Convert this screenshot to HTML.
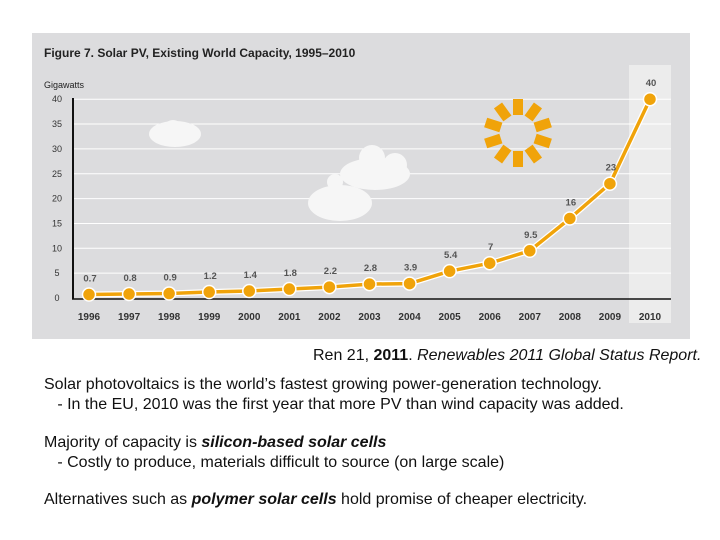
<!DOCTYPE html>
<html><head><meta charset="utf-8"><style>
body{margin:0;width:720px;height:540px;background:#fff;position:relative;overflow:hidden;font-family:"Liberation Sans",sans-serif;}
.t{position:absolute;font-size:16px;color:#111;white-space:nowrap;line-height:18px;}
</style></head><body>
<svg id="chart" width="720" height="345" style="position:absolute;left:0;top:0" xmlns="http://www.w3.org/2000/svg">
<rect x="32" y="33" width="658" height="306" fill="#dcdcde"/>
<rect x="629" y="65" width="42" height="258" fill="#ececec"/>
<text x="44" y="57" font-family="Liberation Sans" font-weight="bold" font-size="12" fill="#222">Figure 7. Solar PV, Existing World Capacity, 1995–2010</text>
<text x="44" y="88" font-family="Liberation Sans" font-size="9" fill="#222">Gigawatts</text>
<g id="grid"></g>
<g fill="#f6f6f6">
<circle cx="173" cy="130" r="10"/><ellipse cx="175" cy="134" rx="26" ry="13"/>
<ellipse cx="375" cy="174" rx="35" ry="16"/><circle cx="372" cy="158" r="13"/><circle cx="395" cy="165" r="12"/>
<ellipse cx="340" cy="203" rx="32" ry="18"/><circle cx="335" cy="182" r="8"/>
</g>
<g fill="#f0a30a" id="sun"></g>
<g id="marks"></g>
</svg>
<div class="t" style="left:313px;top:347px">Ren 21, <b>2011</b>. <i>Renewables 2011 Global Status Report.</i></div>
<div class="t" style="left:44px;top:376px">Solar photovoltaics is the world’s fastest growing power-generation technology.</div>
<div class="t" style="left:44px;top:396px">&nbsp;&nbsp;&nbsp;- In the EU, 2010 was the first year that more PV than wind capacity was added.</div>
<div class="t" style="left:44px;top:434px">Majority of capacity is <b><i>silicon-based solar cells</i></b></div>
<div class="t" style="left:44px;top:454px">&nbsp;&nbsp;&nbsp;- Costly to produce, materials difficult to source (on large scale)</div>
<div class="t" style="left:44px;top:491px">Alternatives such as <b><i>polymer solar cells</i></b> hold promise of cheaper electricity.</div>
<script>
const years=["1996","1997","1998","1999","2000","2001","2002","2003","2004","2005","2006","2007","2008","2009","2010"];
const capacity=[0.7,0.8,0.9,1.2,1.4,1.8,2.2,2.8,2.9,5.4,7,9.5,16,23,40];
const valueLabels=["0.7","0.8","0.9","1.2","1.4","1.8","2.2","2.8","3.9","5.4","7","9.5","16","23","40"];
const yTicks=[0,5,10,15,20,25,30,35,40];
const NS="http://www.w3.org/2000/svg";
const x=i=>89+i*40.07;
const y=v=>298-v*4.97;
function mk(tag,attrs,parent,txt){const e=document.createElementNS(NS,tag);for(const k in attrs)e.setAttribute(k,attrs[k]);if(txt!==undefined)e.textContent=txt;parent.appendChild(e);return e;}
const grid=document.getElementById('grid'),marks=document.getElementById('marks'),sun=document.getElementById('sun');
yTicks.forEach(t=>{
  if(t>0){const l=mk('line',{x1:74,x2:671,y1:y(t),y2:y(t),stroke:'#fff','stroke-width':1},grid);
  
  }
  const tx=mk('text',{x:57,y:y(t)+3,'text-anchor':'middle','font-family':'Liberation Sans','font-size':9,fill:'#333'},grid,String(t));
  
  
});
const ax=mk('line',{x1:73,x2:73,y1:98,y2:299,stroke:'#111','stroke-width':2},grid);


const bx=mk('line',{x1:72,x2:671,y1:299,y2:299,stroke:'#111','stroke-width':1.5},grid);


for(let k=0;k<10;k++){const a=k*36;const r=mk('rect',{x:-5,y:-34,width:10,height:16,transform:`translate(518,133) rotate(${a})`},sun);

}
const pts=capacity.map((v,i)=>x(i)+','+y(v)).join(' ');
const halo=mk('polyline',{points:pts,fill:'none',stroke:'#fff','stroke-width':6,'stroke-linejoin':'round'},marks);


const line=mk('polyline',{points:pts,fill:'none',stroke:'#f0a30a','stroke-width':3.5,'stroke-linejoin':'round'},marks);


capacity.forEach((v,i)=>{
  const c=mk('circle',{cx:x(i),cy:y(v),r:6.5,fill:'#f0a30a',stroke:'#fff','stroke-width':1.5},marks);
  
  
  const lb=mk('text',{x:x(i)+1,y:y(v)-13,'text-anchor':'middle','font-family':'Liberation Sans','font-size':9.5,'font-weight':'bold',fill:'#555'},marks,valueLabels[i]);
  
  
  const yl=mk('text',{x:x(i),y:320,'text-anchor':'middle','font-family':'Liberation Sans','font-size':10,'font-weight':'bold',fill:'#333'},marks,years[i]);
  
  
});
</script>
</body></html>
